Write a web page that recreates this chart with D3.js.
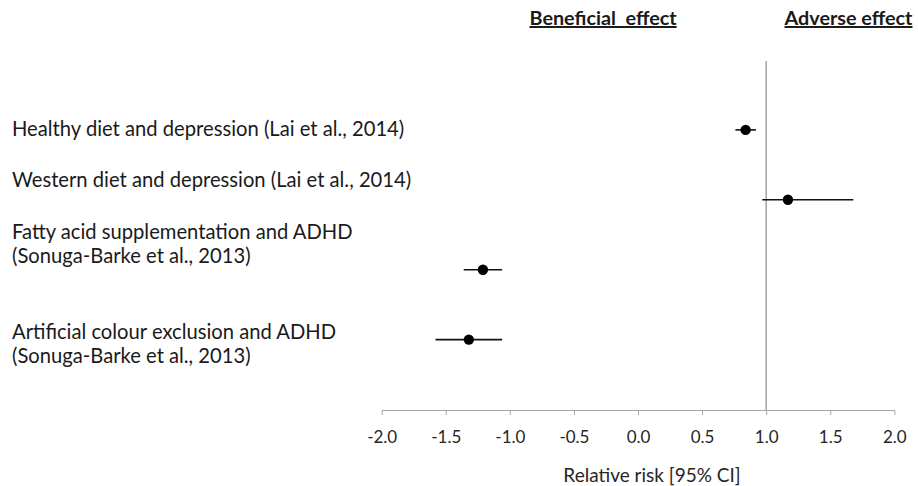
<!DOCTYPE html>
<html>
<head>
<meta charset="utf-8">
<script src="https://cdn.jsdelivr.net/npm/d3@7"></script>
<style>
  html, body { margin: 0; padding: 0; background: #fff; }
  svg { display: block; font-family: Lato, "Open Sans", sans-serif; }
</style>
</head>
<body>
<svg id="chart" width="918" height="486"></svg>
<script>
// ---- data ----
const studies = [
  ["Healthy diet and depression (Lai et al., 2014)"],
  ["Western diet and depression (Lai et al., 2014)"],
  ["Fatty acid supplementation and ADHD", "(Sonuga-Barke et al., 2013)"],
  ["Artificial colour exclusion and ADHD", "(Sonuga-Barke et al., 2013)"]
];
const rowPos = [4, 3, 2, 1];
const estimate = [0.84, 1.17, -1.21, -1.32];
const lower = [0.76, 0.97, -1.36, -1.58];
const upper = [0.92, 1.68, -1.06, -1.06];
const xTicks = [-2.0, -1.5, -1.0, -0.5, 0.0, 0.5, 1.0, 1.5, 2.0];
const refValue = 1.0;
const headers = ["Beneficial  effect", "Adverse effect"];
const xTitle = "Relative risk [95% CI]";

// ---- layout ----
const svg = d3.select("#chart");
const x = d3.scaleLinear().domain([-2, 2]).range([381.7, 894.3]);
const y = d3.scaleLinear().domain([0, 5]).range([409.5, 60]);
const axisY = 410;
const labelX = 12;
const labelFirstBaseline = [135.5, 186.7, 239, 339.3];
const lineGap = 23.5;

// x axis
const axis = d3.axisBottom(x).tickValues(xTicks).tickSize(5).tickPadding(16)
  .tickFormat(d => d.toFixed(1)).tickSizeOuter(0);
const gAxis = svg.append("g").attr("transform", `translate(0,${axisY})`).call(axis);
gAxis.select(".domain").attr("stroke", "#a6a6a6").attr("stroke-width", 1);
gAxis.selectAll(".tick line").attr("stroke", "#a6a6a6");
gAxis.selectAll(".tick text").attr("fill", "#262626").attr("font-size", 17)
  .attr("font-family", "Lato, sans-serif");

// reference line
svg.append("line")
  .attr("x1", x(refValue)).attr("x2", x(refValue))
  .attr("y1", y(5) + 1).attr("y2", axisY)
  .attr("stroke", "#8c8c8c").attr("stroke-width", 1.2);

// error bars
svg.append("g").selectAll("line").data(rowPos).join("line")
  .attr("x1", (d, i) => x(lower[i])).attr("x2", (d, i) => x(upper[i]))
  .attr("y1", d => y(d)).attr("y2", d => y(d))
  .attr("stroke", "#111").attr("stroke-width", 1.6);

// points
svg.append("g").selectAll("circle").data(rowPos).join("circle")
  .attr("cx", (d, i) => x(estimate[i])).attr("cy", d => y(d))
  .attr("r", 5.2).attr("fill", "#000");

// study labels
studies.forEach((lines, i) => {
  const t = svg.append("text").attr("x", labelX).attr("y", labelFirstBaseline[i])
    .attr("font-size", 20.2).attr("fill", "#1a1a1a");
  lines.forEach((ln, j) => {
    t.append("tspan").attr("x", labelX).attr("y", labelFirstBaseline[i] + j * lineGap).text(ln);
  });
});

// headers
const headerX = [529.5, 784.5];
headers.forEach((h, i) => {
  svg.append("text").attr("x", headerX[i]).attr("y", 25)
    .attr("font-size", 19.8).attr("font-weight", "bold").attr("fill", "#1a1a1a")
    .attr("text-decoration", "underline").style("white-space", "pre").text(h);
});

// axis title
svg.append("text").attr("x", 652).attr("y", 481.5).attr("text-anchor", "middle")
  .attr("font-size", 19).attr("fill", "#262626").text(xTitle);
</script>
</body>
</html>
